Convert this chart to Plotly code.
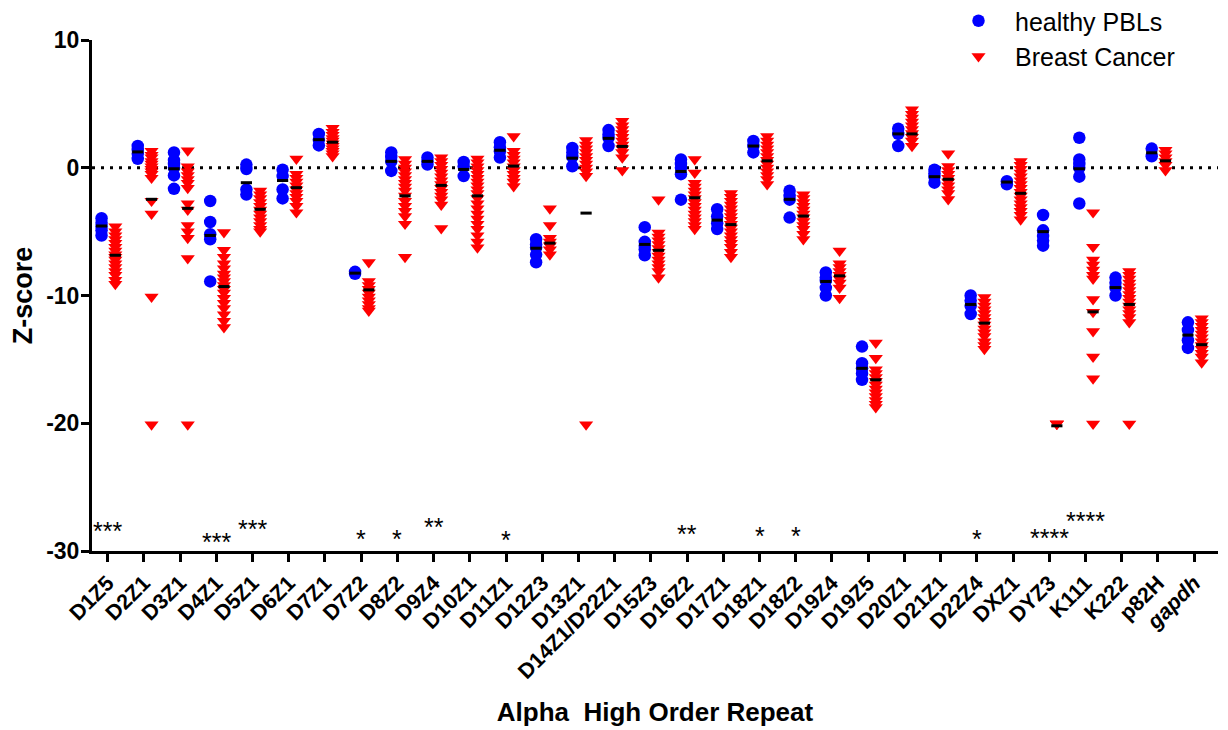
import plotly.graph_objects as go

categories = ["D1Z5", "D2Z1", "D3Z1", "D4Z1", "D5Z1", "D6Z1", "D7Z1", "D7Z2", "D8Z2", "D9Z4",
              "D10Z1", "D11Z1", "D12Z3", "D13Z1", "D14Z1/D22Z1", "D15Z3", "D16Z2", "D17Z1",
              "D18Z1", "D18Z2", "D19Z4", "D19Z5", "D20Z1", "D21Z1", "D22Z4", "DXZ1", "DYZ3",
              "K111", "K222", "p82H", "gapdh"]
tick_labels = categories[:-1] + ["<i>gapdh</i>"]
y_ticks = [10, 0, -10, -20, -30]
y_tick_labels = ["10", "0", "-10", "-20", "-30"]

healthy = [
    [-3.95, -4.3, -4.6, -4.9, -5.3],
    [1.7, 1.4, 1.1, 0.7],
    [1.2, 0.6, 0.3, 0.0, -0.6, -1.65],
    [-2.6, -4.25, -5.2, -5.6, -8.9],
    [0.25, -0.1, -1.7, -2.1],
    [-0.15, -0.65, -1.7, -2.4],
    [2.65, 2.2, 1.75],
    [-8.15, -8.3],
    [1.2, 0.85, 0.5, -0.25],
    [0.8, 0.5, 0.25],
    [0.45, 0.1, -0.65],
    [2.0, 1.6, 1.3, 0.8],
    [-5.6, -6.0, -6.25, -6.8, -7.4],
    [1.55, 1.2, 0.85, 0.12],
    [2.95, 2.6, 2.35, 1.7],
    [-4.65, -5.8, -6.1, -6.4, -6.85],
    [0.65, 0.3, 0.0, -0.5, -2.5],
    [-3.25, -3.8, -4.35, -4.8],
    [2.1, 1.7, 1.2],
    [-1.8, -2.2, -2.5, -3.9],
    [-8.2, -8.6, -8.85, -9.4, -10.0],
    [-14.0, -15.3, -15.7, -16.1, -16.6],
    [3.05, 2.65, 1.7],
    [-0.15, -0.45, -0.7, -1.17],
    [-10.0, -10.4, -10.8, -11.45],
    [-1.05, -1.3],
    [-3.7, -4.9, -5.35, -5.7, -6.1],
    [2.35, 0.65, 0.3, 0.0, -0.7, -2.8],
    [-8.6, -9.0, -9.4, -10.0],
    [1.5, 0.9],
    [-12.1, -12.7, -13.5, -14.1],
]

cancer = [
    [-4.6, -5.0, -5.3, -5.6, -5.9, -6.2, -6.5, -6.8, -7.0, -7.2, -7.5, -7.8, -8.1, -8.4, -8.8, -9.1],
    [1.3, 1.0, 0.8, 0.5, 0.3, 0.1, -0.1, -0.3, -0.5, -0.8, -2.6, -3.6, -10.1, -20.1],
    [1.35, 0.1, -0.3, -0.6, -0.9, -1.2, -1.6, -2.8, -3.3, -4.5, -5.0, -5.5, -7.1, -20.1],
    [-5.05, -6.45, -7.0, -7.5, -7.9, -8.3, -8.6, -8.9, -9.2, -9.5, -9.8, -10.2, -10.6, -11.0, -11.5, -12.0, -12.5],
    [-1.8, -2.1, -2.4, -2.7, -3.0, -3.3, -3.6, -3.9, -4.2, -4.5, -4.8, -5.0],
    [0.7, -0.5, -0.8, -1.1, -1.4, -1.7, -2.0, -2.3, -2.6, -3.0, -3.5],
    [3.1, 2.8, 2.55, 2.3, 2.1, 1.9, 1.7, 1.5, 1.3, 1.1, 0.9],
    [-7.4, -8.9, -9.2, -9.5, -9.8, -10.1, -10.4, -10.7, -11.0, -11.2],
    [0.65, 0.3, 0.0, -0.3, -0.6, -0.9, -1.2, -1.5, -1.8, -2.2, -2.6, -3.0, -3.4, -3.8, -4.4, -7.0],
    [0.8, 0.5, 0.2, -0.1, -0.4, -0.7, -1.0, -1.3, -1.6, -1.9, -2.2, -2.5, -2.9, -4.75],
    [0.7, 0.4, 0.1, -0.2, -0.5, -0.8, -1.1, -1.4, -1.7, -2.0, -2.4, -2.8, -3.2, -3.6, -4.0, -4.4, -4.8, -5.3, -5.8, -6.25],
    [2.45, 1.3, 1.0, 0.7, 0.4, 0.1, -0.2, -0.5, -0.8, -1.1, -1.45],
    [-3.2, -4.5, -5.5, -5.8, -6.1, -6.4, -6.8],
    [2.15, 1.8, 1.5, 1.2, 0.9, 0.6, 0.3, 0.0, -0.3, -0.65, -20.1],
    [3.65, 3.3, 3.0, 2.7, 2.4, 2.1, 1.8, 1.5, 1.2, 0.8, -0.2],
    [-2.5, -5.1, -5.4, -5.7, -6.0, -6.3, -6.6, -6.9, -7.2, -7.5, -7.8, -8.1, -8.6],
    [0.65, -0.4, -1.2, -1.5, -1.8, -2.1, -2.4, -2.7, -3.0, -3.3, -3.6, -3.9, -4.2, -4.5, -4.8],
    [-2.0, -2.3, -2.6, -2.9, -3.2, -3.5, -3.8, -4.1, -4.4, -4.7, -5.0, -5.3, -5.6, -5.9, -6.2, -6.6, -7.0],
    [2.45, 2.1, 1.8, 1.5, 1.2, 0.9, 0.6, 0.3, 0.0, -0.3, -0.6, -0.9, -1.3],
    [-2.1, -2.4, -2.7, -3.0, -3.3, -3.6, -3.9, -4.2, -4.5, -4.8, -5.2, -5.6],
    [-6.5, -7.5, -7.8, -8.1, -8.4, -8.7, -9.0, -9.4, -10.2],
    [-13.7, -14.9, -15.8, -16.1, -16.4, -16.7, -17.0, -17.3, -17.6, -17.9, -18.2, -18.5, -18.75],
    [4.55, 4.2, 3.9, 3.6, 3.3, 3.0, 2.7, 2.4, 2.1, 1.7],
    [1.1, 0.12, -0.2, -0.5, -0.8, -1.1, -1.4, -1.7, -2.0, -2.47],
    [-10.15, -10.5, -10.8, -11.1, -11.4, -11.7, -12.0, -12.3, -12.6, -12.9, -13.2, -13.6, -13.9, -14.2],
    [0.5, 0.2, -0.1, -0.4, -0.7, -1.0, -1.3, -1.6, -1.9, -2.2, -2.5, -2.8, -3.1, -3.4, -3.7, -4.05],
    [-20.05, -20.05, -20.05],
    [-3.5, -6.2, -7.2, -7.6, -8.0, -8.4, -8.7, -10.3, -11.3, -12.8, -14.8, -16.5, -20.05],
    [-8.1, -8.4, -8.7, -9.0, -9.3, -9.6, -9.9, -10.2, -10.5, -10.8, -11.1, -11.4, -11.7, -12.1, -20.05],
    [1.38, 1.1, 0.8, 0.5, 0.2, -0.2],
    [-11.8, -12.1, -12.4, -12.7, -13.0, -13.3, -13.6, -13.9, -14.2, -14.5, -14.8, -15.25],
]

healthy_center = [-4.56, 1.24, -0.08, -5.3, -1.17, -1.0, 2.2, -8.25, 0.5, 0.5, -0.13, 1.37, -6.3,
                  0.75, 2.3, -6.0, -0.29, -4.1, 1.7, -2.47, -8.9, -15.7, 2.65, -0.7, -10.7, -1.12,
                  -5.0, -0.08, -9.38, 1.17, -13.1]
cancer_center = [-6.85, -2.47, -3.18, -9.3, -3.25, -1.56, 2.0, -9.56, -2.2, -1.38, -2.2, 0.13, -5.9,
                 -3.55, 1.67, -6.46, -2.35, -4.45, 0.54, -3.78, -8.46, -16.6, 2.65, -0.9, -12.16, -2.0,
                 -20.2, -11.28, -10.7, 0.54, -13.85]

# significance marks: (category, stars, vertical position in z-score units)
sig_marks = [("D1Z5", "***", -28.45), ("D4Z1", "***", -29.3), ("D5Z1", "***", -28.25),
             ("D7Z2", "*", -29.05), ("D8Z2", "*", -29.05), ("D9Z4", "**", -28.1),
             ("D11Z1", "*", -29.1), ("D16Z2", "**", -28.65), ("D18Z1", "*", -28.8),
             ("D18Z2", "*", -28.8), ("D22Z4", "*", -29.05), ("DYZ3", "****", -29.0),
             ("K111", "****", -27.65)]

FONT = "Liberation Sans, Arial, sans-serif"
# the page adds an 8px body margin, so the figure is 8px smaller on each axis
W, H = 1220, 722
ML, MR, MT, MB = 84, 10, 32, 179
PW, PH = W - ML - MR, H - MT - MB
OFF_H, OFF_C = -0.17, 0.21

hx, hy, cx, cy = [], [], [], []
for i, vals in enumerate(healthy):
    hx += [i + OFF_H] * len(vals)
    hy += vals
for i, vals in enumerate(cancer):
    cx += [i + OFF_C] * len(vals)
    cy += vals

fig = go.Figure()
fig.add_trace(go.Scatter(x=hx, y=hy, mode="markers", name="healthy PBLs",
                         marker=dict(symbol="circle", size=12.5, color="#0000FF")))
fig.add_trace(go.Scatter(x=cx, y=cy, mode="markers", name="Breast Cancer",
                         marker=dict(symbol="triangle-down", size=12.3, color="#FF0000")))
fig.add_trace(go.Scatter(x=[i + OFF_H for i in range(len(categories))], y=healthy_center,
                         mode="markers", showlegend=False, hoverinfo="skip",
                         marker=dict(symbol="line-ew", size=8, line=dict(color="black", width=3))))
fig.add_trace(go.Scatter(x=[i + OFF_C for i in range(len(categories))], y=cancer_center,
                         mode="markers", showlegend=False, hoverinfo="skip",
                         marker=dict(symbol="line-ew", size=8, line=dict(color="black", width=3))))

fig.add_shape(type="line", xref="paper", yref="y", x0=0, x1=1, y0=0, y1=0,
              line=dict(color="black", width=3, dash="3px,6px"), layer="below")

for cat, stars, yv in sig_marks:
    fig.add_annotation(x=categories.index(cat), y=yv, text=stars, showarrow=False,
                       font=dict(family=FONT, size=25, color="black"),
                       xanchor="center", yanchor="middle")

fig.update_layout(
    width=W, height=H,
    paper_bgcolor="white", plot_bgcolor="white",
    margin=dict(l=ML, r=MR, t=MT, b=MB, autoexpand=False),
    font=dict(family=FONT, color="black"),
    legend=dict(x=(934 - ML) / PW, y=1 + (MT + 10) / PH, xanchor="left", yanchor="top",
                font=dict(family=FONT, size=25, color="black"),
                itemwidth=63, bgcolor="rgba(0,0,0,0)", tracegroupgap=0),
    xaxis=dict(range=[-0.434, 30.66], tickmode="array",
               tickvals=list(range(len(categories))),
               ticktext=tick_labels, tickangle=-45, showline=True, linecolor="black", linewidth=3,
               ticks="outside", ticklen=8, tickwidth=3, tickcolor="black", showgrid=False,
               zeroline=False, tickfont=dict(family=FONT, size=21.5, color="black", weight="bold"),
               title=dict(text="Alpha  High Order Repeat", standoff=21,
                          font=dict(family=FONT, size=26, color="black", weight="bold"))),
    yaxis=dict(range=[-30, 10], tickmode="array",
               tickvals=y_ticks, ticktext=y_tick_labels, ticklabelstandoff=-3,
               showline=True, linecolor="black", linewidth=3, ticks="outside", ticklen=8,
               tickwidth=3, tickcolor="black", showgrid=False, zeroline=False,
               tickfont=dict(family=FONT, size=23, color="black", weight="bold"),
               title=dict(text="Z-score", standoff=14,
                          font=dict(family=FONT, size=27, color="black", weight="bold"))),
)

fig.write_html("out.html")
